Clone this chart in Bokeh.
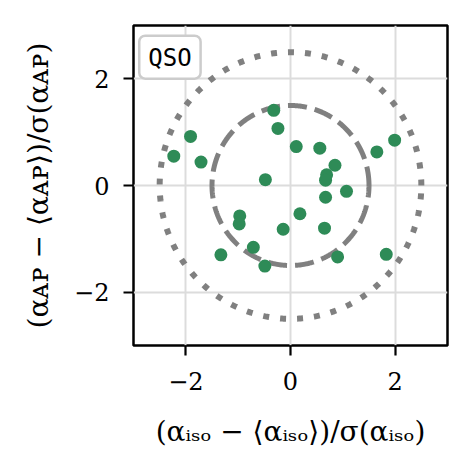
import numpy as np
from bokeh.plotting import figure
from bokeh.models import FixedTicker, Label, ColumnDataSource
from bokeh.embed import file_html
from bokeh.resources import INLINE

# ---- data ----
x_iso = [-0.32, -0.24, -1.91, -2.23, -1.71, 0.11, 0.56, 1.99, 1.65, 0.85,
         0.69, 0.67, -0.48, 1.07, 0.67, 0.18, -0.97, -0.98, -0.14, 0.65,
         -0.71, -1.33, -0.49, 0.90, 1.83]
y_ap = [1.41, 1.07, 0.92, 0.55, 0.44, 0.73, 0.70, 0.85, 0.63, 0.38,
        0.20, 0.10, 0.11, -0.11, -0.22, -0.53, -0.57, -0.72, -0.82, -0.80,
        -1.16, -1.30, -1.51, -1.34, -1.29]
radii = [1.5, 2.5]
radius_dash = ["19 8", "6 11"]
radius_width = [5, 6]
ticks = [-2, 0, 2]
tick_labels = {-2: "\u22122", 0: "0", 2: "2"}
label_text = "QSO"

GREEN = "#2e8b57"
GRAY = "#808080"
SERIF = "DejaVu Serif"

p = figure(width=470, height=470, x_range=(-3, 3), y_range=(-3, 3),
           output_backend="svg", toolbar_location=None,
           min_border_left=133, min_border_right=23,
           min_border_top=25, min_border_bottom=125)

p.outline_line_color = "black"
p.outline_line_width = 2.5
p.background_fill_color = "white"
p.border_fill_color = "white"

for ax in (p.xaxis[0], p.yaxis[0]):
    ax.ticker = FixedTicker(ticks=ticks)
    ax.major_label_overrides = tick_labels
    ax.minor_tick_line_color = None
    ax.axis_line_color = None
    ax.major_tick_line_color = "black"
    ax.major_tick_line_width = 2.2
    ax.major_tick_out = 10
    ax.major_tick_in = 0
    ax.major_label_text_font = SERIF
    ax.major_label_text_font_size = "24px"
    ax.major_label_text_color = "black"
    ax.axis_label_text_font = SERIF
    ax.axis_label_text_font_size = "28px"
    ax.axis_label_text_font_style = "normal"
    ax.axis_label_text_color = "black"

p.xaxis.major_label_standoff = 16
p.yaxis.major_label_standoff = 14
p.xaxis.axis_label_standoff = 22
p.yaxis.axis_label_standoff = 16
p.xaxis.axis_label = "(\u03b1\u1d62\u209b\u2092 \u2212 \u27e8\u03b1\u1d62\u209b\u2092\u27e9)/\u03c3(\u03b1\u1d62\u209b\u2092)"
p.yaxis.axis_label = "(\u03b1\u1d00\u1d18 \u2212 \u27e8\u03b1\u1d00\u1d18\u27e9)/\u03c3(\u03b1\u1d00\u1d18)"

p.xgrid.ticker = FixedTicker(ticks=ticks)
p.ygrid.ticker = FixedTicker(ticks=ticks)
p.grid.grid_line_color = "#dcdcdc"
p.grid.grid_line_width = 2
p.grid.grid_line_alpha = 1.0

theta = np.linspace(0, 2 * np.pi, 721)
for r, d, w in zip(radii, radius_dash, radius_width):
    p.line(r * np.cos(theta), r * np.sin(theta), line_color=GRAY,
           line_width=w, line_dash=d)

src = ColumnDataSource(dict(x=x_iso, y=y_ap))
p.scatter("x", "y", source=src, size=13, fill_color=GREEN, line_color=GREEN,
          line_width=0)

lab = Label(x=-2.89, y=2.81, x_units="data", y_units="data", text=label_text,
            anchor="top_left", text_font="DejaVu Sans Mono",
            text_font_size="24px", text_color="black",
            background_fill_color="white", border_line_color="#cccccc",
            border_line_width=2.5, border_radius=6,
            padding=dict(left=9, right=9, top=8, bottom=7))
p.add_layout(lab)

open("out.html", "w").write(file_html(p, INLINE))
